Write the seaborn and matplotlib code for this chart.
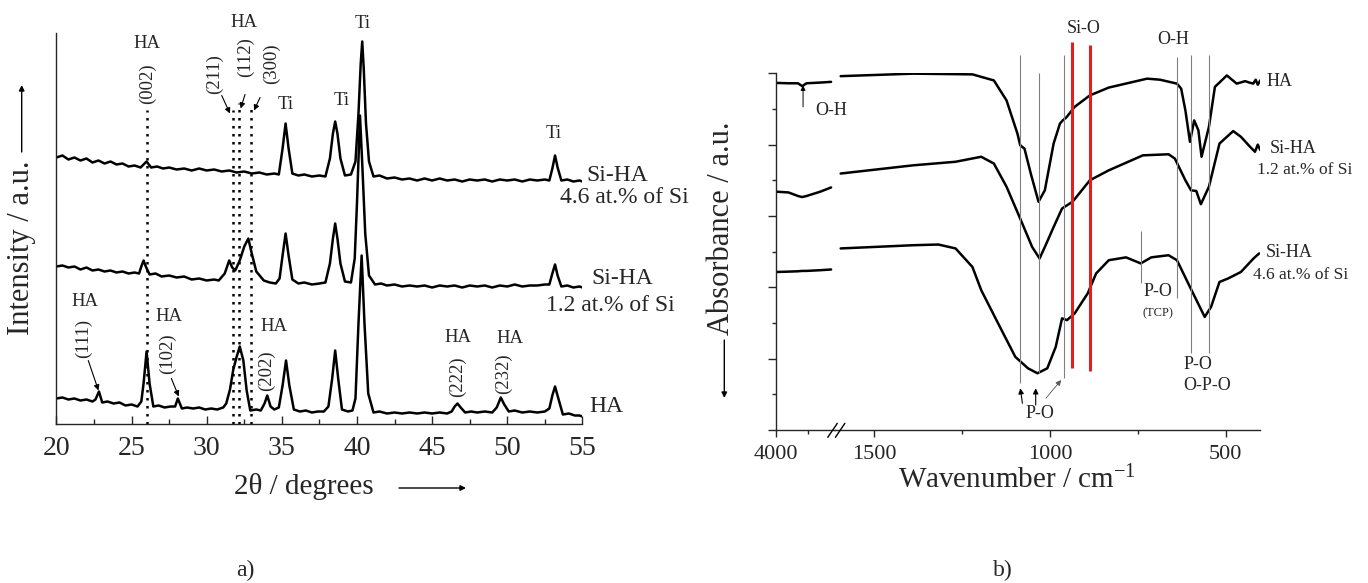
import numpy as np
import pandas as pd
import seaborn as sns
import matplotlib.pyplot as plt
from matplotlib.ticker import FixedLocator, MultipleLocator

# ---------------- a) XRD patterns (2theta / degrees, intensity / a.u.) ----------------
tt_si46 = [20.0, 20.4, 20.8, 21.2, 21.6, 22.0, 22.4, 22.8, 23.2, 23.6, 24.0, 24.4, 24.8, 25.2,
           25.6, 26.0, 26.3, 26.7, 27.1, 27.5, 28.0, 28.5, 29.0, 29.5, 30.0, 30.5, 31.0, 31.5,
           32.0, 32.5, 33.0, 33.5, 34.0, 34.5, 34.8, 35.05, 35.25, 35.45, 35.7, 36.1, 36.5,
           37.0, 37.5, 37.9, 38.2, 38.4, 38.55, 38.7, 38.9, 39.2, 39.6, 39.9, 40.1, 40.25,
           40.35, 40.45, 40.6, 40.8, 41.1, 41.5, 42.0, 42.5, 43.0, 43.5, 44.0, 44.5, 45.0,
           45.5, 46.0, 46.5, 47.0, 47.5, 48.0, 48.5, 49.0, 49.5, 50.0, 50.5, 51.0, 51.5, 52.0,
           52.5, 52.8, 53.0, 53.18, 53.35, 53.6, 54.0, 54.4, 54.8, 55.0]
int_si46 = [266, 268, 264, 266, 263, 265, 261, 263, 260, 262, 259, 260, 257, 258,
            256, 262, 256, 257, 255, 256, 254, 255, 253, 255, 253, 254, 252, 253,
            251, 252, 250, 251, 249, 250, 249, 275, 300, 275, 250, 248, 249,
            247, 248, 247, 265, 290, 302, 290, 265, 248, 249, 262, 310, 360,
            382, 355, 300, 262, 247, 248, 245, 246, 244, 245, 243, 245, 243,
            245, 243, 244, 242, 244, 243, 244, 242, 244, 243, 244, 242, 244, 243,
            244, 243, 255, 268, 256, 243, 244, 242, 243, 242]

tt_si12 = [20.0, 20.4, 20.8, 21.2, 21.6, 22.0, 22.4, 22.8, 23.2, 23.6, 24.0, 24.4, 24.8, 25.2,
           25.5, 25.65, 25.8, 25.95, 26.2, 26.6, 27.0, 27.5, 28.0, 28.5, 29.0, 29.5, 30.0,
           30.5, 30.8, 31.2, 31.5, 31.7, 31.9, 32.2, 32.5, 32.77, 33.0, 33.3, 33.8, 34.2,
           34.6, 34.85, 35.05, 35.25, 35.45, 35.7, 36.1, 36.5, 37.0, 37.5, 37.9, 38.2, 38.4,
           38.55, 38.7, 38.9, 39.2, 39.6, 39.85, 40.0, 40.2, 40.35, 40.55, 40.8, 41.2, 41.6,
           42.0, 42.5, 43.0, 43.5, 44.0, 44.5, 45.0, 45.5, 46.0, 46.5, 47.0, 47.5, 48.0, 48.5,
           49.0, 49.5, 50.0, 50.5, 51.0, 51.5, 52.0, 52.5, 52.8, 53.0, 53.18, 53.35, 53.6,
           54.0, 54.4, 54.8, 55.0]
int_si12 = [157, 158, 156, 157, 154, 156, 153, 154, 152, 153, 151, 152, 150, 151,
            150, 157, 163, 157, 149, 150, 147, 148, 146, 147, 144, 145, 143,
            144, 143, 150, 163, 156, 153, 163, 177, 185, 170, 152, 143, 141,
            140, 145, 168, 190, 168, 144, 140, 141, 139, 140, 141, 160, 185,
            200, 185, 160, 142, 141, 165, 220, 308, 260, 190, 148, 139, 140,
            138, 139, 137, 138, 137, 138, 136, 138, 137, 138, 136, 138, 137, 138,
            136, 138, 137, 139, 137, 138, 138, 139, 139, 150, 159, 148, 137,
            138, 136, 137, 136]

tt_ha = [20.0, 20.4, 20.8, 21.2, 21.6, 22.0, 22.4, 22.6, 22.83, 23.05, 23.4, 23.8, 24.2, 24.6,
         25.0, 25.4, 25.65, 25.8, 26.0, 26.2, 26.45, 26.8, 27.2, 27.6, 27.9, 28.08, 28.35,
         28.7, 29.1, 29.5, 29.9, 30.3, 30.7, 31.1, 31.3, 31.55, 31.77, 32.0, 32.2, 32.44,
         32.66, 32.9, 33.3, 33.6, 33.85, 34.03, 34.25, 34.5, 34.8, 35.05, 35.28, 35.5,
         35.8, 36.2, 36.6, 37.0, 37.4, 37.8, 38.1, 38.35, 38.55, 38.75, 39.0, 39.4, 39.7,
         39.9, 40.1, 40.31, 40.5, 40.75, 41.1, 41.5, 42.0, 42.5, 43.0, 43.5, 44.0, 44.5, 45.0,
         45.5, 46.0, 46.3, 46.5, 46.69, 46.9, 47.2, 47.6, 48.0, 48.5, 49.0, 49.3, 49.57, 49.8,
         50.1, 50.5, 51.0, 51.5, 52.0, 52.5, 52.8, 53.0, 53.18, 53.4, 53.7, 54.1, 54.5, 54.8,
         55.0]
int_ha = [25, 26, 24, 25, 23, 24, 22, 24, 32, 21, 22, 20, 21, 18,
          19, 17, 22, 40, 72, 40, 17, 18, 16, 17, 17, 25, 15,
          16, 15, 16, 14, 15, 14, 16, 20, 34, 54, 67, 77, 63,
          33, 13, 14, 13, 20, 28, 17, 14, 16, 38, 63, 38,
          14, 12, 13, 11, 12, 12, 17, 45, 73, 45, 14, 12, 13,
          25, 100, 168, 100, 30, 11, 12, 10, 11, 10, 11, 10, 11, 10,
          11, 10, 12, 17, 20, 16, 11, 12, 11, 12, 11, 16, 26, 19,
          12, 13, 11, 12, 11, 12, 15, 28, 37, 25, 9, 10, 8, 8,
          7]

# dotted HA reflection markers: position, top
hkl_pos = [26.0, 31.73, 32.17, 32.93]
hkl_top = [313.5, 313.5, 320, 315]

# ---------------- b) FTIR spectra (wavenumber / cm-1, absorbance / a.u.) ----------------
wn_hi = [3993, 3900, 3825, 3792, 3758, 3650, 3564]
ha_hi = [9.73, 9.72, 9.72, 9.64, 9.72, 9.74, 9.76]
si12_hi = [6.68, 6.66, 6.56, 6.53, 6.56, 6.68, 6.80]
si46_hi = [4.43, 4.44, 4.45, 4.46, 4.46, 4.48, 4.50]

wn_ha = [1596, 1390, 1221, 1160, 1124, 1093, 1085, 1073, 1055, 1033, 1015, 990, 972, 964, 954,
         930, 887, 833, 724, 687, 639, 627, 615, 602, 590, 578, 569, 548, 531, 497, 469, 445,
         433, 422, 415, 409, 402]
ab_ha = [9.92, 9.99, 9.97, 9.80, 9.24, 8.31, 7.98, 7.89, 7.19, 6.40, 6.72, 8.03, 8.59, 8.68, 8.76,
         9.06, 9.38, 9.60, 9.85, 9.82, 9.71, 9.57, 8.96, 8.08, 8.68, 8.40, 7.66, 8.50, 9.62, 9.94,
         9.71, 9.78, 9.74, 9.71, 9.82, 9.68, 9.80]

wn_si12 = [1596, 1390, 1269, 1196, 1160, 1124, 1087, 1051, 1030, 1015, 990, 966, 936, 887, 833,
           736, 663, 645, 615, 599, 584, 571, 548, 518, 479, 457, 431, 417, 409, 402]
ab_si12 = [7.19, 7.42, 7.52, 7.66, 7.47, 6.82, 5.97, 5.13, 4.81, 5.13, 5.69, 6.21, 6.40, 7.00, 7.28,
           7.70, 7.73, 7.61, 7.00, 6.72, 6.70, 6.33, 6.82, 8.03, 8.38, 8.22, 7.94, 7.80, 8.00, 7.85]

wn_si46 = [1596, 1390, 1318, 1269, 1221, 1196, 1148, 1099, 1063, 1036, 1008, 984, 966, 952, 930,
           893, 869, 833, 784, 742, 712, 663, 639, 602, 560, 542, 518, 493, 457, 421, 405]
ab_si46 = [5.09, 5.18, 5.20, 5.09, 4.57, 3.92, 2.99, 2.05, 1.73, 1.59, 1.73, 2.33, 3.13, 3.08, 3.27,
           3.83, 4.39, 4.76, 4.84, 4.67, 4.84, 4.90, 4.76, 4.01, 3.17, 3.45, 4.15, 4.25, 4.43, 4.81,
           4.95]

# band marker lines
band_pos = [1085, 1033, 960, 742, 639, 599, 548]
band_top = [10.5, 10.01, 10.5, 5.57, 10.46, 10.5, 10.5]
band_bot = [1.31, 1.59, 1.45, 4.11, 3.69, 2.15, 2.15]
sio_pos = [938, 887]
sio_top = [10.88, 10.78]
sio_bot = [1.73, 1.66]

sns.set_theme(style='ticks')
plt.rcParams['font.family'] = ['Liberation Serif', 'DejaVu Serif']
plt.rcParams['mathtext.default'] = 'regular'

W, H = 1368, 583
fig = plt.figure(figsize=(W / 100, H / 100), dpi=100)


def box(x0, y0, x1, y1):
    return [x0 / W, 1 - y1 / H, (x1 - x0) / W, (y1 - y0) / H]


def fpx(x, y):
    return (x, H - y)


arrow = dict(arrowstyle='-|>', color='black', lw=0.8, shrinkA=0, shrinkB=0, mutation_scale=8)

# ======================= panel a =======================
ax = fig.add_axes(box(56.4, 33.3, 582.4, 423.5))
for tt, yy in [(tt_si46, int_si46), (tt_si12, int_si12), (tt_ha, int_ha)]:
    sns.lineplot(x=tt, y=yy, ax=ax, color='black', lw=1.8, sort=False, estimator=None)
ax.vlines(hkl_pos, 0, hkl_top, colors='black', lw=1.8, linestyles=[(0, (1, 2.2))])

ax.set_xlim(20, 55)
ax.set_ylim(0, 390.2)
ax.xaxis.set_major_locator(MultipleLocator(5))
ax.xaxis.set_minor_locator(MultipleLocator(2.5))
ax.set_yticks([])
ax.tick_params(axis='x', which='major', direction='in', length=6, width=1, labelsize=20, pad=9)
ax.tick_params(axis='x', which='minor', direction='in', length=3.5, width=1)
for s in ['top', 'right']:
    ax.spines[s].set_visible(False)
for s in ['left', 'bottom']:
    ax.spines[s].set_linewidth(1)
ax.set_xlabel('')
ax.set_ylabel('')

fs = 13.5
ax.text(26.05, 380, 'HA', ha='center', va='center', fontsize=fs)
ax.text(26.05, 340, '(002)', ha='center', va='center', rotation=90, fontsize=fs)
ax.text(32.48, 401, 'HA', ha='center', va='center', fontsize=fs)
ax.text(30.55, 349, '(211)', ha='center', va='center', rotation=90, fontsize=fs)
ax.text(32.55, 366, '(112)', ha='center', va='center', rotation=90, fontsize=fs)
ax.text(34.32, 360, '(300)', ha='center', va='center', rotation=90, fontsize=fs)
ax.annotate('', xy=(31.55, 310), xytext=(31.0, 328), arrowprops=arrow)
ax.annotate('', xy=(32.26, 315), xytext=(32.55, 329), arrowprops=arrow)
ax.annotate('', xy=(33.15, 313), xytext=(33.55, 326), arrowprops=arrow)

ax.text(35.28, 319, 'Ti', ha='center', va='center', fontsize=fs)
ax.text(38.96, 323, 'Ti', ha='center', va='center', fontsize=fs)
ax.text(40.35, 400, 'Ti', ha='center', va='center', fontsize=fs)
ax.text(53.06, 290, 'Ti', ha='center', va='center', fontsize=fs)

ax.text(21.9, 122, 'HA', ha='center', va='center', fontsize=fs)
ax.text(21.8, 85, '(111)', ha='center', va='center', rotation=90, fontsize=fs)
ax.annotate('', xy=(22.8, 33), xytext=(22.12, 63), arrowprops=arrow)
ax.text(27.5, 107, 'HA', ha='center', va='center', fontsize=fs)
ax.text(27.4, 70, '(102)', ha='center', va='center', rotation=90, fontsize=fs)
ax.annotate('', xy=(28.14, 27), xytext=(27.65, 45), arrowprops=arrow)
ax.text(34.48, 97, 'HA', ha='center', va='center', fontsize=fs)
ax.text(33.99, 53, '(202)', ha='center', va='center', rotation=90, fontsize=fs)
ax.text(46.69, 86, 'HA', ha='center', va='center', fontsize=fs)
ax.text(46.69, 47, '(222)', ha='center', va='center', rotation=90, fontsize=fs)
ax.text(50.15, 85, 'HA', ha='center', va='center', fontsize=fs)
ax.text(49.78, 50, '(232)', ha='center', va='center', rotation=90, fontsize=fs)

ax.text(55.27, 248, 'Si-HA', ha='left', va='center', fontsize=17, clip_on=False)
ax.text(53.5, 226, '4.6 at.% of Si', ha='left', va='center', fontsize=17, clip_on=False)
ax.text(55.62, 145, 'Si-HA', ha='left', va='center', fontsize=17, clip_on=False)
ax.text(52.57, 118, '1.2 at.% of Si', ha='left', va='center', fontsize=17, clip_on=False)
ax.text(55.49, 17, 'HA', ha='left', va='center', fontsize=17, clip_on=False)

fig.text(21.7 / W, 1 - 248 / H, 'Intensity / a.u.', rotation=90, ha='center', va='center', fontsize=22)
ax.annotate('', xy=fpx(21.7, 85), xytext=fpx(21.7, 152), xycoords='figure pixels',
            textcoords='figure pixels', arrowprops=dict(arrow, lw=1))
fig.text(303.5 / W, 1 - 487 / H, '2θ / degrees', ha='center', va='center', fontsize=21)
ax.annotate('', xy=fpx(466, 488), xytext=fpx(399, 488), xycoords='figure pixels',
            textcoords='figure pixels', arrowprops=dict(arrow, lw=1))
fig.text(245 / W, 1 - 570 / H, 'a)', ha='center', va='center', fontsize=17)

# ======================= panel b =======================
ax_l = fig.add_axes(box(775.8, 73.3, 835.4, 430))
ax_r = fig.add_axes(box(835.4, 73.3, 1260.1, 430))
ax_r.patch.set_alpha(0)

for yy in [ha_hi, si12_hi, si46_hi]:
    sns.lineplot(x=wn_hi, y=yy, ax=ax_l, color='black', lw=1.8, sort=False, estimator=None)
for ww, yy in [(wn_ha, ab_ha), (wn_si12, ab_si12), (wn_si46, ab_si46)]:
    sns.lineplot(x=ww, y=yy, ax=ax_r, color='black', lw=1.8, sort=False, estimator=None)

ax_r.vlines(band_pos, band_bot, band_top, colors='#808080', lw=0.8, clip_on=False)
ax_r.vlines(sio_pos, sio_bot, sio_top, colors='#e01f1f', lw=2.2, clip_on=False)

ax_l.set_xlim(4000, 3530)
ax_r.set_xlim(1611, 402.4)
for a in [ax_l, ax_r]:
    a.set_ylim(0, 10)
    a.set_xlabel('')
    a.set_ylabel('')
    for s in ['top', 'right']:
        a.spines[s].set_visible(False)
    a.spines['bottom'].set_linewidth(1)
    a.tick_params(axis='x', which='major', direction='out', length=5, width=1, labelsize=16, pad=6)
    a.tick_params(axis='x', which='minor', direction='out', length=3, width=1)
ax_r.spines['left'].set_visible(False)
ax_r.set_yticks([])
ax_l.spines['left'].set_linewidth(1)
ax_l.yaxis.set_major_locator(FixedLocator([0, 2, 4, 6, 8, 10]))
ax_l.yaxis.set_minor_locator(FixedLocator([1, 3, 5, 7, 9]))
ax_l.tick_params(axis='y', which='major', direction='out', length=5.5, width=1, labelleft=False)
ax_l.tick_params(axis='y', which='minor', direction='out', length=3, width=1)
ax_l.xaxis.set_major_locator(FixedLocator([4000]))
ax_l.xaxis.set_minor_locator(FixedLocator([3750]))
ax_r.xaxis.set_major_locator(FixedLocator([1500, 1000, 500]))
ax_r.xaxis.set_minor_locator(FixedLocator([1250, 750]))

# axis break
for x0 in [827.8, 835.4]:
    fig.add_artist(plt.Line2D([x0 / W, (x0 + 9.5) / W], [1 - 437.3 / H, 1 - 423.3 / H],
                              transform=fig.transFigure, color='black', lw=1))

fs = 12.5
ax_r.text(905, 11.26, 'Si-O', ha='center', va='center', fontsize=13)
ax_r.text(651, 10.94, 'O-H', ha='center', va='center', fontsize=13)
ax_r.text(384, 9.76, 'HA', ha='left', va='center', fontsize=13)
ax_r.text(374, 7.89, 'Si-HA', ha='left', va='center', fontsize=13)
ax_r.text(412, 7.28, '1.2 at.% of Si', ha='left', va='center', fontsize=fs)
ax_r.text(386, 4.99, 'Si-HA', ha='left', va='center', fontsize=13)
ax_r.text(422, 4.34, '4.6 at.% of Si', ha='left', va='center', fontsize=fs)

ax_l.text(3691, 8.96, 'O-H', ha='left', va='center', fontsize=13, clip_on=False)
ax_l.annotate('', xy=(3785, 9.66), xytext=(3785, 9.06), arrowprops=dict(arrow, lw=0.7, mutation_scale=7))

ax_r.text(1030, 0.47, 'P-O', ha='center', va='center', fontsize=13)
ax_r.annotate('', xy=(1084.8, 1.17), xytext=(1078.8, 0.75), arrowprops=arrow)
ax_r.annotate('', xy=(1041, 1.17), xytext=(1041, 0.70), arrowprops=arrow)
ax_r.annotate('', xy=(968.5, 1.40), xytext=(1012, 0.89), arrowprops=dict(arrow, color='#555555', lw=0.6))
ax_r.text(693, 3.87, 'P-O', ha='center', va='center', fontsize=13)
ax_r.text(693, 3.27, '(TCP)', ha='center', va='center', fontsize=9)
ax_r.text(578, 1.84, 'P-O', ha='center', va='center', fontsize=13)
ax_r.text(554, 1.26, 'O-P-O', ha='center', va='center', fontsize=13)

fig.text(721.3 / W, 1 - 228.5 / H, 'Absorbance / a.u.', rotation=90, ha='center', va='center', fontsize=22)
ax_r.annotate('', xy=fpx(724.3, 398), xytext=fpx(724.3, 340), xycoords='figure pixels',
              textcoords='figure pixels', arrowprops=dict(arrow, lw=1))
fig.text(1017.3 / W, 1 - 480 / H, 'Wavenumber / cm$^{-1}$', ha='center', va='center', fontsize=21)
fig.text(1002.4 / W, 1 - 570 / H, 'b)', ha='center', va='center', fontsize=17)

fig.savefig('out.png', dpi=100)
